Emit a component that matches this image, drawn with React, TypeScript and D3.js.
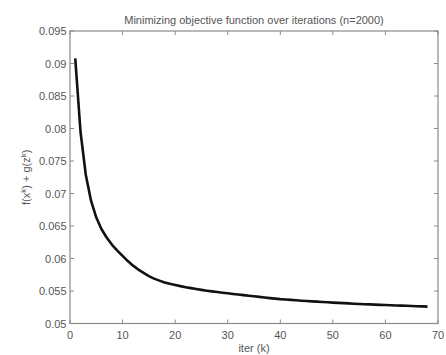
import React from "react";
import * as d3 from "d3";

const iters: number[] = [
  1, 2, 3, 4, 5, 6, 7, 8, 9, 10, 11, 12, 13, 14, 15, 16, 17, 18, 19, 20,
  21, 22, 23, 24, 25, 26, 27, 28, 29, 30, 31, 32, 33, 34, 35, 36, 37, 38, 39, 40,
  41, 42, 43, 44, 45, 46, 47, 48, 49, 50, 51, 52, 53, 54, 55, 56, 57, 58, 59, 60,
  61, 62, 63, 64, 65, 66, 67, 68,
];
const objective: number[] = [
  0.0908, 0.0795, 0.0729, 0.0689, 0.0663, 0.0645, 0.0632, 0.0621, 0.0612, 0.0604,
  0.0596, 0.0589, 0.0583, 0.0578, 0.0573, 0.0569, 0.0566, 0.0563, 0.0561, 0.05592,
  0.05575, 0.05559, 0.05544, 0.0553, 0.05517, 0.05505, 0.05494, 0.05484, 0.05474, 0.05465,
  0.05455, 0.05445, 0.05436, 0.05427, 0.05418, 0.05409, 0.054, 0.05391, 0.05383, 0.05375,
  0.05369, 0.05363, 0.05357, 0.05351, 0.05346, 0.05341, 0.05336, 0.05331, 0.05326, 0.05321,
  0.05317, 0.05313, 0.05309, 0.05305, 0.05301, 0.05297, 0.05294, 0.0529, 0.05287, 0.05284,
  0.05281, 0.05278, 0.05275, 0.05272, 0.05269, 0.05266, 0.05263, 0.0526,
];
const xTicks: number[] = [0, 10, 20, 30, 40, 50, 60, 70];
const yTicks: number[] = [0.05, 0.055, 0.06, 0.065, 0.07, 0.075, 0.08, 0.085, 0.09, 0.095];
const yTickLabels: string[] = ["0.05", "0.055", "0.06", "0.065", "0.07", "0.075", "0.08", "0.085", "0.09", "0.095"];
const title = "Minimizing objective function over iterations (n=2000)";
const xLabel = "iter (k)";

export default function App() {
  const W = 446, H = 355;
  const left = 70, right = 438, top = 31, bottom = 323.5;
  const x = d3.scaleLinear().domain([0, 70]).range([left, right]);
  const y = d3.scaleLinear().domain([0.05, 0.095]).range([bottom, top]);
  const line = d3
    .line<number>()
    .x((_, i) => x(iters[i]))
    .y((d) => y(d));
  const axisColor = "#8a8a8a";
  const textColor = "#555";
  const font = "'Liberation Sans', Arial, sans-serif";
  const tl = 4;
  return (
    <svg
      width={W}
      height={H}
      style={{ position: "absolute", left: 0, top: 0, background: "#fff" }}
      fontFamily={font}
    >
      <rect x={0} y={0} width={W} height={H} fill="#fff" />
      <path d={line(objective) || ""} fill="none" stroke="#111" strokeWidth={2.6} strokeLinejoin="round" />
      <rect x={left} y={top} width={right - left} height={bottom - top} fill="none" stroke={axisColor} strokeWidth={1.2} />
      {xTicks.map((t) => (
        <g key={"x" + t}>
          <line x1={x(t)} x2={x(t)} y1={bottom} y2={bottom - tl} stroke={axisColor} />
          <line x1={x(t)} x2={x(t)} y1={top} y2={top + tl} stroke={axisColor} />
          <text x={x(t)} y={339} textAnchor="middle" fontSize={11} fill={textColor}>
            {t}
          </text>
        </g>
      ))}
      {yTicks.map((t, i) => (
        <g key={"y" + t}>
          <line x1={left} x2={left + tl} y1={y(t)} y2={y(t)} stroke={axisColor} />
          <line x1={right} x2={right - tl} y1={y(t)} y2={y(t)} stroke={axisColor} />
          <text x={66.5} y={y(t) + 4} textAnchor="end" fontSize={11} fill={textColor}>
            {yTickLabels[i]}
          </text>
        </g>
      ))}
      <text x={(left + right) / 2} y={23.5} textAnchor="middle" fontSize={11} fill={textColor}>
        {title}
      </text>
      <text x={(left + right) / 2} y={352} textAnchor="middle" fontSize={11} fill={textColor}>
        {xLabel}
      </text>
      <text
        transform={`translate(30,${(top + bottom) / 2}) rotate(-90)`}
        textAnchor="middle"
        fontSize={11}
        fill={textColor}
      >
        f(x<tspan dy={-4} fontSize={8}>k</tspan>
        <tspan dy={4}>) + g(z</tspan>
        <tspan dy={-4} fontSize={8}>k</tspan>
        <tspan dy={4}>)</tspan>
      </text>
    </svg>
  );
}
